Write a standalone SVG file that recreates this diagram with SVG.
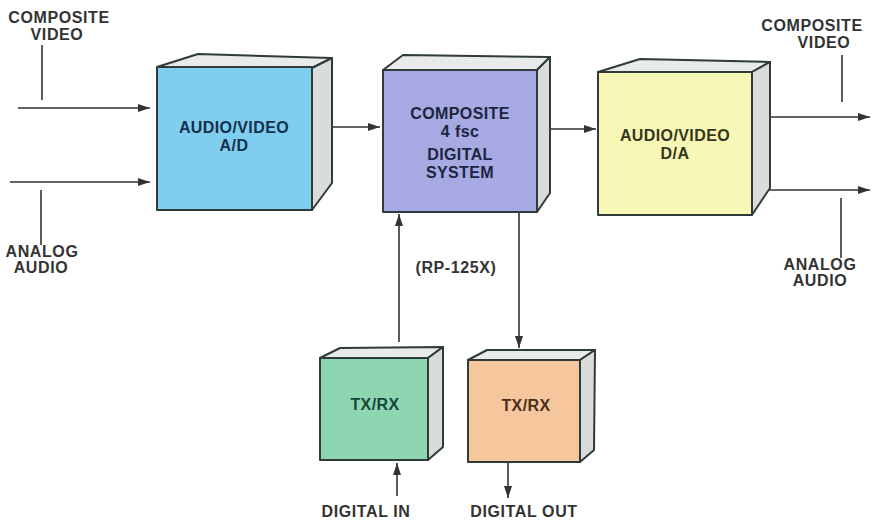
<svg xmlns="http://www.w3.org/2000/svg" width="872" height="522" viewBox="0 0 872 522">
<defs>
<marker id="ah" markerWidth="12" markerHeight="8" refX="12" refY="4" orient="auto" markerUnits="userSpaceOnUse">
<path d="M0,0 L12,4 L0,8 Z" fill="#333"/>
</marker>
<style>
.edge{stroke:#2f3a3a;stroke-width:2;stroke-linejoin:round}
.top{fill:#e9ebeb}
.side{fill:#dadcdc}
.ln{stroke:#333;stroke-width:1.6;fill:none}
.lab{font-family:"Liberation Sans",Arial,sans-serif;font-weight:bold;font-size:16px;fill:#333;text-anchor:middle;letter-spacing:0.6px}
.bt{font-family:"Liberation Sans",Arial,sans-serif;font-weight:bold;font-size:16px;text-anchor:middle;letter-spacing:0.4px}
</style>
</defs>
<rect width="872" height="522" fill="#fff"/>

<g id="connectors">
<line class="ln" x1="18" y1="108" x2="150" y2="108" marker-end="url(#ah)"/>
<line class="ln" x1="42" y1="45" x2="42" y2="100"/>
<line class="ln" x1="10" y1="182" x2="150" y2="182" marker-end="url(#ah)"/>
<line class="ln" x1="41" y1="190" x2="41" y2="245"/>
<line class="ln" x1="332" y1="127" x2="380" y2="127" marker-end="url(#ah)"/>
<line class="ln" x1="550" y1="129" x2="596" y2="129" marker-end="url(#ah)"/>
<line class="ln" x1="768" y1="117" x2="870" y2="117" marker-end="url(#ah)"/>
<line class="ln" x1="842" y1="55" x2="842" y2="102"/>
<line class="ln" x1="768" y1="190" x2="870" y2="190" marker-end="url(#ah)"/>
<line class="ln" x1="841" y1="198" x2="841" y2="258"/>
<line class="ln" x1="399" y1="342" x2="399" y2="214" marker-end="url(#ah)"/>
<line class="ln" x1="519" y1="213" x2="519" y2="348" marker-end="url(#ah)"/>
<line class="ln" x1="397" y1="496" x2="397" y2="463" marker-end="url(#ah)"/>
<line class="ln" x1="508" y1="463" x2="508" y2="498" marker-end="url(#ah)"/>
<text class="lab" x="59" y="23">COMPOSITE</text>
<text class="lab" x="57" y="40">VIDEO</text>
<text class="lab" x="42" y="257">ANALOG</text>
<text class="lab" x="41" y="273">AUDIO</text>
<text class="lab" x="812" y="31">COMPOSITE</text>
<text class="lab" x="824" y="48">VIDEO</text>
<text class="lab" x="820" y="270">ANALOG</text>
<text class="lab" x="820" y="286">AUDIO</text>
<text class="lab" x="456" y="273">(RP-125X)</text>
<text class="lab" x="366" y="517">DIGITAL IN</text>
<text class="lab" x="524" y="517">DIGITAL OUT</text>
</g>

<g id="ad">
<polygon class="top edge" points="157,67 198,54 332,58 312,68"/>
<polygon class="side edge" points="312,68 332,58 332,183 312,210"/>
<rect class="edge" x="157" y="67" width="155" height="143" fill="#7fcdef"/>
<text class="bt" x="234" y="133" fill="#15304a">AUDIO/VIDEO</text>
<text class="bt" x="234" y="151" fill="#15304a">A/D</text>
</g>

<g id="composite">
<polygon class="top edge" points="383,70 403,55 550,57 537,70"/>
<polygon class="side edge" points="537,70 550,57 550,193 537,212"/>
<rect class="edge" x="383" y="70" width="154" height="142" fill="#a6a9e2"/>
<text class="bt" x="460" y="119" fill="#1c2540">COMPOSITE</text>
<text class="bt" x="460" y="137" fill="#1c2540">4 fsc</text>
<text class="bt" x="460" y="160" fill="#1c2540">DIGITAL</text>
<text class="bt" x="460" y="178" fill="#1c2540">SYSTEM</text>
</g>

<g id="da">
<polygon class="top edge" points="598,72 640,59 770,62 752,72"/>
<polygon class="side edge" points="752,72 770,62 770,188 752,215"/>
<rect class="edge" x="598" y="72" width="154" height="143" fill="#f7f7b6"/>
<text class="bt" x="675" y="141" fill="#34351c">AUDIO/VIDEO</text>
<text class="bt" x="675" y="159" fill="#34351c">D/A</text>
</g>

<g id="txrx-in">
<polygon class="top edge" points="320,358 340,348 443,347 428,358"/>
<polygon class="side edge" points="428,358 443,347 443,447 428,460"/>
<rect class="edge" x="320" y="358" width="108" height="102" fill="#8ed5b2"/>
<text class="bt" x="375" y="410" fill="#16463a">TX/RX</text>
</g>

<g id="txrx-out">
<polygon class="top edge" points="468,360 487,350 595,350 580,360"/>
<polygon class="side edge" points="580,360 595,350 594,450 580,462"/>
<rect class="edge" x="468" y="360" width="112" height="102" fill="#f6c79c"/>
<text class="bt" x="526" y="411" fill="#4a2e1c">TX/RX</text>
</g>
</svg>
